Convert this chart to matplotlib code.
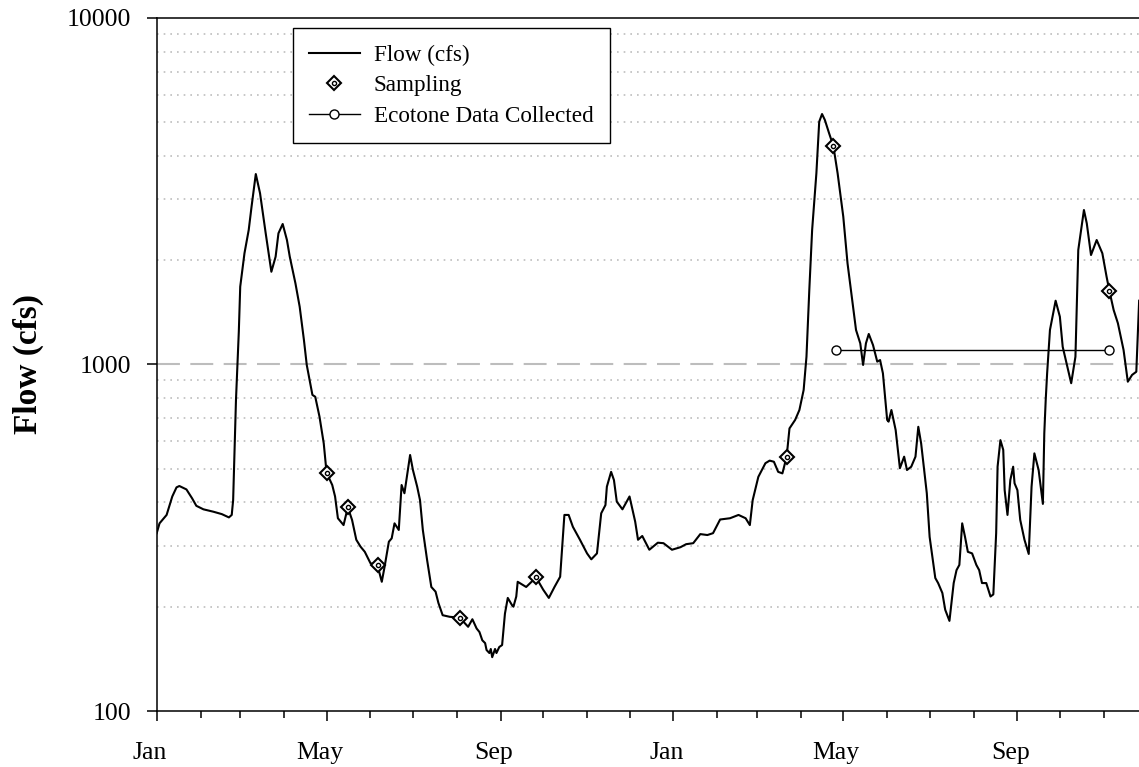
import pandas as pd
import matplotlib
matplotlib.use('Agg')
import matplotlib.pyplot as plt
import matplotlib.dates as mdates
import matplotlib.ticker as mticker
from matplotlib.transforms import ScaledTranslation
from matplotlib.legend_handler import HandlerTuple

plt.rcParams['font.family'] = ['Liberation Serif', 'DejaVu Serif']

# daily flow (days counted from 1 Jan of the first year)
start = pd.Timestamp('2005-01-01')
flow_day = [0, 2, 7, 11, 14, 16, 21, 25, 28, 33, 40, 46, 51, 53, 54, 55, 56, 57, 58, 59,
            62, 65, 67, 70, 73, 77, 81, 84, 86, 89, 92, 94, 98, 101, 104, 106, 110, 112, 115, 118,
            120, 124, 126, 128, 132, 135, 138, 141, 144, 147, 151, 156, 159, 161, 164, 166, 168, 171, 173, 175,
            179, 181, 184, 186, 188, 191, 194, 197, 199, 202, 207, 214, 220, 223, 226, 228, 230, 232, 233, 235,
            236, 237, 239, 240, 242, 244, 246, 248, 251, 252, 254, 255, 261, 268, 273, 277, 281, 285, 288, 291,
            294, 299, 304, 307, 311, 313, 314, 317, 318, 321, 323, 325, 329, 334, 338, 340, 343, 348, 354, 358,
            364, 370, 374, 379, 384, 389, 393, 398, 405, 411, 416, 419, 421, 425, 430, 433, 436, 439, 442, 445,
            447, 451, 454, 457, 459, 461, 463, 466, 468, 470, 472, 475, 478, 481, 485, 488, 491, 494, 497, 499,
            501, 503, 506, 509, 511, 513, 516, 517, 519, 522, 525, 528, 530, 533, 536, 538, 540, 544, 546, 550,
            552, 555, 557, 560, 563, 565, 567, 569, 571, 573, 576, 579, 581, 583, 586, 589, 591, 593, 594, 596,
            598, 599, 601, 603, 605, 606, 608, 610, 613, 616, 618, 620, 623, 626, 627, 628, 629, 631, 635, 638,
            640, 646, 649, 651, 655, 657, 660, 664, 668, 671, 673, 676, 679, 683, 686, 689, 692, 694]
flow_cfs = [326, 348, 368, 416, 442, 446, 436, 411, 391, 382, 376, 370, 362, 368, 406, 567, 790, 1000, 1243, 1677,
            2094, 2445, 2854, 3546, 3120, 2391, 1852, 2047, 2391, 2544, 2287, 2047, 1715, 1468, 1177, 997, 817, 807, 707, 592,
            487, 449, 416, 360, 344, 387, 356, 312, 298, 288, 267, 263, 236, 261, 308, 315, 348, 333, 449, 425,
            548, 496, 444, 406, 333, 273, 228, 221, 205, 189, 187, 186, 175, 184, 173, 169, 160, 157, 150, 147,
            151, 143, 151, 147, 153, 155, 191, 212, 202, 200, 214, 236, 228, 243, 224, 212, 228, 244, 368, 368,
            340, 312, 285, 274, 285, 340, 372, 393, 444, 490, 464, 402, 382, 416, 352, 312, 320, 292, 306, 305,
            292, 297, 303, 305, 324, 322, 326, 357, 360, 368, 360, 344, 406, 474, 519, 528, 524, 490, 485, 542,
            654, 692, 739, 844, 1053, 1641, 2445, 3563, 5020, 5283, 5077, 4647, 4272, 3563, 2671, 1959, 1569, 1258, 1151, 997,
            1151, 1225, 1138, 1019, 1030, 943, 692, 684, 739, 647, 502, 542, 496, 507, 542, 661, 592, 425, 318, 242,
            234, 219, 196, 182, 234, 255, 264, 348, 318, 288, 285, 264, 255, 234, 234, 214, 217, 326, 507, 605,
            567, 434, 368, 464, 507, 454, 434, 356, 312, 284, 444, 554, 496, 396, 633, 790, 943, 1258, 1528, 1374,
            1125, 883, 1053, 2140, 2792, 2556, 2070, 2287, 2094, 1792, 1630, 1436, 1315, 1101, 892, 933, 953, 1528]

sample_day = [120, 135, 156, 214, 268, 445, 478, 673]
sample_cfs = [487, 387, 263, 186, 243, 542, 4272, 1630]

ecotone_day = [480, 673]
ecotone_cfs = [1100, 1100]

threshold = 1000
last_day = 693.9


def to_dates(days):
    return (start + pd.to_timedelta(days, unit='D')).to_numpy()


fig = plt.figure(figsize=(11.39, 7.67), dpi=100)
ax = fig.add_axes([156.7 / 1139, 56 / 767, 982.3 / 1139, 693 / 767])

ax.axhline(threshold, color='#bdbdbd', lw=1.5, dashes=(11, 5), zorder=1.5)
flow_line, = ax.plot(to_dates(flow_day), flow_cfs, color='black', lw=1.5, zorder=2)
samp_d, = ax.plot(to_dates(sample_day), sample_cfs, ls='none', marker='D', ms=7.5,
                  mfc='white', mec='black', mew=1.5, zorder=3)
samp_o, = ax.plot(to_dates(sample_day), sample_cfs, ls='none', marker='o', ms=3,
                  mfc='white', mec='black', mew=1.0, zorder=4)
eco_line, = ax.plot(to_dates(ecotone_day), ecotone_cfs, color='black', lw=1.0, marker='o',
                    ms=6.5, mfc='white', mec='black', mew=1.0, zorder=3)

ax.set_yscale('log')
ax.set_ylim(100, 10000)
ax.set_xlim(start, start + pd.Timedelta(days=last_day))

ax.yaxis.set_major_locator(mticker.LogLocator(base=10))
ax.yaxis.set_major_formatter(mticker.FuncFormatter(lambda v, _: f'{v:.0f}'))
ax.yaxis.set_minor_locator(mticker.LogLocator(base=10, subs=range(2, 10)))
ax.yaxis.set_minor_formatter(mticker.NullFormatter())
ax.yaxis.grid(True, which='minor', linestyle=(0, (1, 3)), color='#bdbdbd', lw=1.2)
ax.set_axisbelow(True)

ax.xaxis.set_major_locator(mdates.MonthLocator(bymonth=[1, 5, 9]))
ax.xaxis.set_major_formatter(mdates.DateFormatter('%b'))
ax.xaxis.set_minor_locator(mdates.MonthLocator())

ax.tick_params(axis='both', which='major', direction='out', length=7.5, width=1.1,
               labelsize=18.5, colors='black')
ax.tick_params(axis='x', which='major', pad=15)
ax.tick_params(axis='y', which='major', pad=11)
ax.tick_params(axis='x', which='minor', direction='out', length=5, width=1.1)
ax.tick_params(axis='y', which='minor', length=0)

# month labels sit a little left of their ticks in the original
shift = ScaledTranslation(-7 / 100, 0, fig.dpi_scale_trans)
for lbl in ax.get_xticklabels():
    lbl.set_transform(lbl.get_transform() + shift)

ax.spines['right'].set_visible(False)
for side in ['left', 'bottom', 'top']:
    ax.spines[side].set_linewidth(1.1)

ax.set_ylabel('Flow (cfs)', fontsize=24, fontweight='bold')
ax.yaxis.set_label_coords(-0.115, 0.5)

leg = ax.legend([flow_line, (samp_d, samp_o), eco_line],
                ['Flow (cfs)', 'Sampling', 'Ecotone Data Collected'],
                handler_map={tuple: HandlerTuple(ndivide=1, pad=0)},
                loc='upper left', bbox_to_anchor=(0.1385, 0.985), borderaxespad=0,
                fontsize=16.7, fancybox=False, edgecolor='black', framealpha=1,
                handlelength=2.2, handletextpad=0.6, borderpad=0.7, labelspacing=0.4)
leg.get_frame().set_linewidth(1.0)

fig.savefig('out.png', dpi=100, facecolor='white')
